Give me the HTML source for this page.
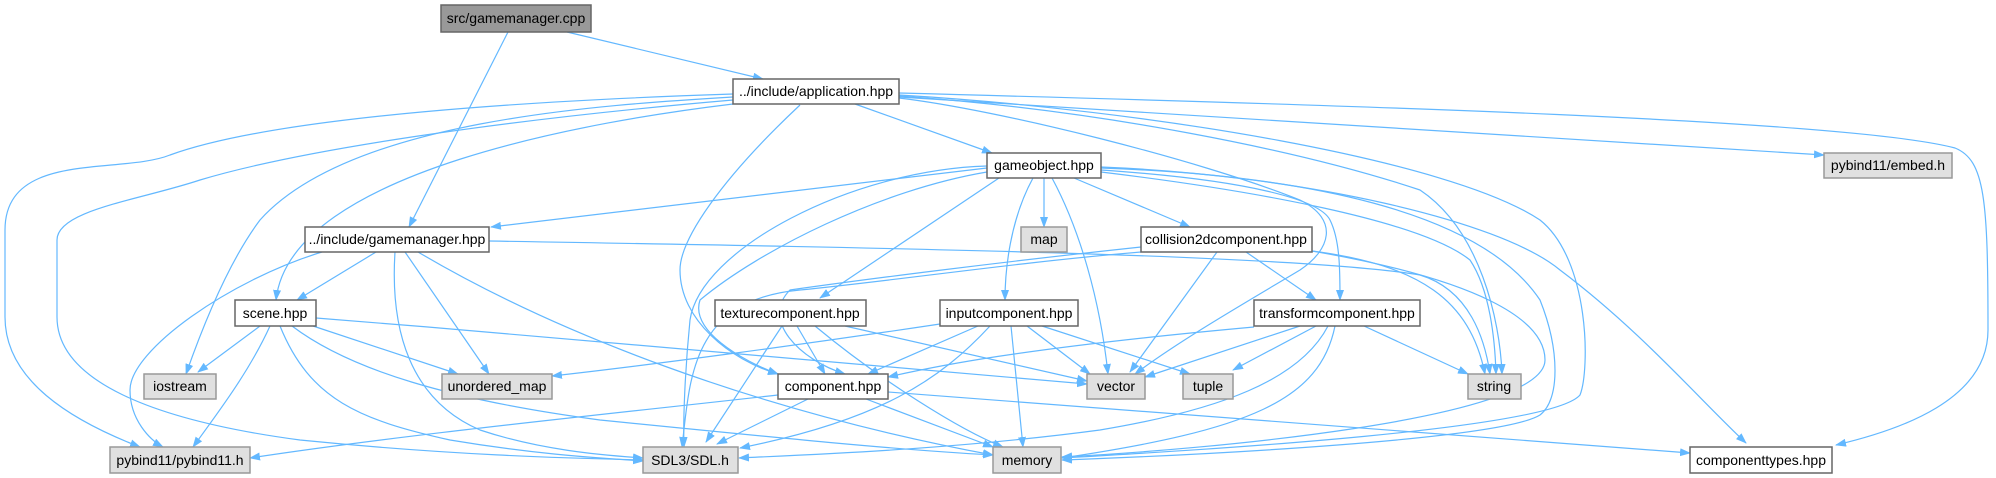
<!DOCTYPE html>
<html><head><meta charset="utf-8"><style>
body{margin:0;background:#fff;width:1996px;height:478px;overflow:hidden}
svg{display:block}
text{font-family:"Liberation Sans",Arial,sans-serif;font-size:14px;fill:#000}
.w{fill:#fff;stroke:#666;stroke-width:1.5}
.g{fill:#e0e0e0;stroke:#999;stroke-width:1.5}
.d{fill:#999;stroke:#666;stroke-width:1.5}
path.e{fill:none;stroke:#63b8ff;stroke-width:1.2;marker-end:url(#a)}
</style></head><body>
<svg width="1996" height="478" viewBox="0 0 1996 478">
<defs><marker id="a" markerWidth="11" markerHeight="8" refX="10" refY="4" orient="auto" markerUnits="userSpaceOnUse"><path d="M0,0 L11,4 L0,8 z" fill="#63b8ff"/></marker></defs>
<!-- cpp -->
<path class="e" d="M567,32 L763,79"/>
<path class="e" d="M508,32 L409,227"/>
<!-- application -->
<path class="e" d="M855,104 L992,153"/>
<path class="e" d="M733,104 C600,120 290,170 276,300"/>
<path class="e" d="M733,97 C600,105 350,120 260,220 C230,260 205,320 186,374"/>
<path class="e" d="M733,94 C550,100 280,115 170,155 C120,175 5,150 5,230 L5,317 C5,380 70,420 140,447"/>
<path class="e" d="M733,100 C500,120 300,150 200,180 C140,200 57,210 57,240 L57,317 C57,380 150,420 300,440 C450,455 560,458 643,460"/>
<path class="e" d="M800,105 C720,180 680,240 680,270 C680,320 730,360 778,374"/>
<path class="e" d="M899,98 C1000,110 1200,160 1300,200 C1340,220 1330,250 1300,270 C1250,300 1180,340 1135,374"/>
<path class="e" d="M899,96 C1100,110 1300,150 1420,190 C1480,230 1500,320 1502,374"/>
<path class="e" d="M899,95 C1150,110 1450,160 1540,220 C1590,260 1590,370 1580,395 C1550,430 1200,450 1062,458"/>
<path class="e" d="M899,97 L1824,155"/>
<path class="e" d="M899,93 C1350,105 1850,120 1955,148 C1985,160 1988,200 1988,330 C1988,400 1900,430 1836,445"/>
<!-- gameobject -->
<path class="e" d="M987,168 L491,227"/>
<path class="e" d="M987,166 C850,170 700,250 690,320 C685,370 683,420 684,447"/>
<path class="e" d="M987,172 C880,190 760,250 700,300 C690,330 740,360 778,374"/>
<path class="e" d="M999,178 L820,298"/>
<path class="e" d="M1033,178 C1010,220 1005,270 1005,300"/>
<path class="e" d="M1044,178 L1044,227"/>
<path class="e" d="M1052,178 C1080,230 1100,300 1108,374"/>
<path class="e" d="M1074,178 L1190,227"/>
<path class="e" d="M1101,170 C1250,180 1320,200 1330,220 C1340,240 1340,270 1340,300"/>
<path class="e" d="M1101,172 C1250,190 1420,220 1470,260 C1490,290 1495,340 1496,374"/>
<path class="e" d="M1101,168 C1300,175 1480,210 1540,300 C1560,350 1560,400 1540,415 C1500,440 1200,455 1062,460"/>
<path class="e" d="M1101,167 C1300,175 1500,220 1560,270 C1640,330 1700,400 1746,443"/>
<!-- gamemanager.hpp -->
<path class="e" d="M376,252 L297,300"/>
<path class="e" d="M322,252 C230,280 130,350 130,390 C130,420 150,440 163,447"/>
<path class="e" d="M395,252 C390,330 410,400 480,430 C540,450 600,455 643,458"/>
<path class="e" d="M405,252 L489,374"/>
<path class="e" d="M418,252 C550,330 750,410 993,455"/>
<path class="e" d="M489,241 C900,248 1300,255 1420,275 C1470,290 1485,340 1490,374"/>
<!-- scene -->
<path class="e" d="M260,326 L198,372"/>
<path class="e" d="M313,326 L458,374"/>
<path class="e" d="M270,326 C250,370 220,410 193,447"/>
<path class="e" d="M280,326 C310,400 360,420 450,440 C540,455 600,458 643,461"/>
<path class="e" d="M292,326 C350,370 450,400 600,420 C800,440 900,450 993,455"/>
<path class="e" d="M316,318 C600,340 900,370 1087,384"/>
<!-- texture -->
<path class="e" d="M797,326 L825,374"/>
<path class="e" d="M782,326 L706,442"/>
<path class="e" d="M845,326 L1087,381"/>
<path class="e" d="M815,326 C880,380 960,430 1003,447"/>
<!-- input -->
<path class="e" d="M940,324 C800,345 650,365 552,376"/>
<path class="e" d="M978,326 L868,374"/>
<path class="e" d="M990,326 C940,380 880,420 740,448"/>
<path class="e" d="M1027,326 L1090,374"/>
<path class="e" d="M1042,326 L1190,374"/>
<path class="e" d="M1011,326 L1023,447"/>
<!-- collision -->
<path class="e" d="M1141,247 C1000,262 860,280 790,290 C760,320 800,360 845,374"/>
<path class="e" d="M1141,252 C1020,262 900,280 800,290 C690,300 690,380 682,447"/>
<path class="e" d="M1246,252 L1316,300"/>
<path class="e" d="M1217,252 L1130,372"/>
<path class="e" d="M1312,251 C1420,265 1470,300 1485,374"/>
<path class="e" d="M1312,251 C1480,280 1545,320 1545,360 C1545,420 1200,450 1062,457"/>
<!-- transform -->
<path class="e" d="M1254,327 C1000,350 920,370 888,377"/>
<path class="e" d="M1300,326 L1145,377"/>
<path class="e" d="M1316,326 L1233,370"/>
<path class="e" d="M1364,326 L1468,374"/>
<path class="e" d="M1328,326 C1300,380 1220,410 1100,430 C950,450 800,455 739,458"/>
<path class="e" d="M1335,326 C1320,400 1250,430 1062,458"/>
<!-- component -->
<path class="e" d="M778,395 C600,415 400,435 250,458"/>
<path class="e" d="M808,399 L717,444"/>
<path class="e" d="M866,399 L993,447"/>
<path class="e" d="M888,392 L1690,453"/>
<!-- nodes -->
<rect class="d" x="441" y="5" width="150" height="27"/><text x="516" y="23" text-anchor="middle">src/gamemanager.cpp</text>
<rect class="w" x="733" y="79" width="166" height="25"/><text x="816" y="96" text-anchor="middle">../include/application.hpp</text>
<rect class="w" x="305" y="227" width="184" height="25"/><text x="397" y="244" text-anchor="middle">../include/gamemanager.hpp</text>
<rect class="w" x="235" y="300" width="81" height="26"/><text x="275" y="318" text-anchor="middle">scene.hpp</text>
<rect class="g" x="144" y="374" width="72" height="25"/><text x="180" y="391" text-anchor="middle">iostream</text>
<rect class="g" x="442" y="374" width="110" height="25"/><text x="497" y="391" text-anchor="middle">unordered_map</text>
<rect class="w" x="715" y="300" width="151" height="26"/><text x="790" y="318" text-anchor="middle">texturecomponent.hpp</text>
<rect class="w" x="778" y="374" width="110" height="25"/><text x="833" y="391" text-anchor="middle">component.hpp</text>
<rect class="g" x="110" y="447" width="140" height="26"/><text x="180" y="465" text-anchor="middle">pybind11/pybind11.h</text>
<rect class="g" x="643" y="447" width="95" height="26"/><text x="690" y="465" text-anchor="middle">SDL3/SDL.h</text>
<rect class="w" x="940" y="300" width="138" height="26"/><text x="1009" y="318" text-anchor="middle">inputcomponent.hpp</text>
<rect class="w" x="987" y="153" width="114" height="25"/><text x="1044" y="170" text-anchor="middle">gameobject.hpp</text>
<rect class="g" x="1021" y="227" width="46" height="25"/><text x="1044" y="244" text-anchor="middle">map</text>
<rect class="w" x="1141" y="227" width="171" height="25"/><text x="1226" y="244" text-anchor="middle">collision2dcomponent.hpp</text>
<rect class="w" x="1254" y="300" width="166" height="26"/><text x="1337" y="318" text-anchor="middle">transformcomponent.hpp</text>
<rect class="g" x="1087" y="374" width="58" height="25"/><text x="1116" y="391" text-anchor="middle">vector</text>
<rect class="g" x="1183" y="374" width="50" height="25"/><text x="1208" y="391" text-anchor="middle">tuple</text>
<rect class="g" x="1468" y="374" width="53" height="25"/><text x="1494" y="391" text-anchor="middle">string</text>
<rect class="g" x="993" y="447" width="68" height="26"/><text x="1027" y="465" text-anchor="middle">memory</text>
<rect class="w" x="1690" y="447" width="142" height="26"/><text x="1761" y="465" text-anchor="middle">componenttypes.hpp</text>
<rect class="g" x="1824" y="153" width="128" height="25"/><text x="1888" y="170" text-anchor="middle">pybind11/embed.h</text>
</svg>
</body></html>
